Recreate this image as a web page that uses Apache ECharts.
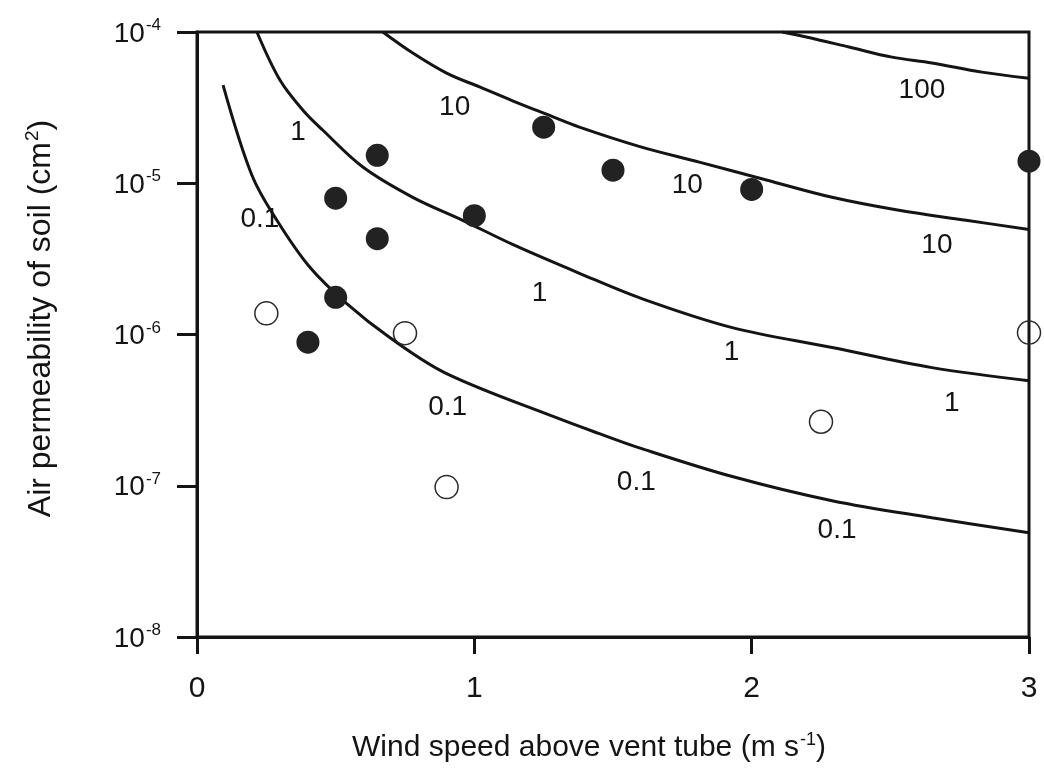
<!DOCTYPE html>
<html>
<head>
<meta charset="utf-8">
<title>Air permeability of soil vs wind speed</title>
<script src="https://cdn.jsdelivr.net/npm/echarts@6/dist/echarts.min.js"></script>
<style>
  html, body { margin: 0; padding: 0; background: #ffffff; }
  #chart { width: 1044px; height: 773px; }
</style>
</head>
<body>
<div id="chart"></div>
<script>
// Model curves: [wind speed (m/s), permeability (cm^2)]
const curve01 = [
  [0.094, 4.46e-5], [0.198, 1.13e-5], [0.288, 5.69e-6], [0.407, 2.78e-6],
  [0.540, 1.60e-6], [0.695, 9.55e-7], [0.900, 5.52e-7], [1.296, 2.82e-7],
  [1.451, 2.21e-7], [1.595, 1.78e-7], [1.930, 1.15e-7], [2.290, 7.96e-8],
  [2.650, 6.14e-8], [3.000, 4.89e-8]
];
const curve1 = [
  [0.216, 1.0e-4], [0.299, 4.81e-5], [0.382, 3.04e-5], [0.454, 2.24e-5],
  [0.598, 1.28e-5], [0.778, 8.07e-6], [0.958, 5.69e-6], [1.138, 3.94e-6],
  [1.379, 2.54e-6], [1.606, 1.72e-6], [1.930, 1.11e-6], [2.290, 8.20e-7],
  [2.650, 6.04e-7], [3.000, 4.95e-7]
];
const curve10 = [
  [0.670, 1.0e-4], [0.778, 7.26e-5], [0.900, 5.35e-5], [1.019, 4.33e-5],
  [1.138, 3.51e-5], [1.260, 2.86e-5], [1.379, 2.35e-5], [1.600, 1.74e-5],
  [1.811, 1.38e-5], [2.053, 1.05e-5], [2.290, 8.07e-6], [2.531, 6.62e-6],
  [2.773, 5.69e-6], [3.000, 4.95e-6]
];
const curve100 = [
  [2.110, 1.0e-4], [2.197, 9.27e-5], [2.351, 7.96e-5], [2.506, 6.82e-5],
  [2.650, 6.24e-5], [2.830, 5.43e-5], [3.000, 4.95e-5]
];

// Measured sites
const filledPoints = [
  [0.40, 8.9e-7], [0.50, 1.76e-6], [0.50, 7.96e-6], [0.65, 4.3e-6],
  [0.65, 1.53e-5], [1.00, 6.1e-6], [1.25, 2.35e-5], [1.50, 1.22e-5],
  [2.00, 9.1e-6], [3.00, 1.4e-5]
];
const openPoints = [
  [0.25, 1.38e-6], [0.75, 1.02e-6], [0.90, 9.8e-8], [2.25, 2.65e-7], [3.00, 1.03e-6]
];

// Curve annotations: [x, y, text]
const curveLabels = [
  [2.614, 4.13e-5, '100'],
  [0.929, 3.19e-5, '10'], [1.768, 9.7e-6, '10'], [2.668, 3.88e-6, '10'],
  [0.364, 2.18e-5, '1'], [1.235, 1.87e-6, '1'], [1.927, 7.6e-7, '1'], [2.722, 3.49e-7, '1'],
  [0.227, 5.78e-6, '0.1'], [0.904, 3.29e-7, '0.1'], [1.584, 1.05e-7, '0.1'], [2.308, 5.04e-8, '0.1']
];

// Axis ranges and labels
const xTicks = [0, 1, 2, 3];
const yExponents = [-8, -7, -6, -5, -4];
const xTitle = 'Wind speed above vent tube (m s';
const xTitleSup = '-1';
const yTitle = 'Air permeability of soil (cm';
const yTitleSup = '2';

const INK = '#141414';
const FONT = '"Liberation Sans", Arial, Helvetica, sans-serif';

const chart = echarts.init(document.getElementById('chart'), null, { renderer: 'canvas' });

function curveSeries(data) {
  return {
    type: 'line',
    data: data,
    showSymbol: false,
    smooth: 0.35,
    lineStyle: { color: INK, width: 3, opacity: 1 },
    silent: true,
    z: 3
  };
}

function titleRich(size) {
  return {
    t: { fontSize: size, color: INK, fontFamily: FONT, lineHeight: size + 4, verticalAlign: 'bottom' },
    s: { fontSize: Math.round(size * 0.6), color: INK, fontFamily: FONT, verticalAlign: 'bottom', padding: [0, 0, Math.round(size * 0.47), 1] }
  };
}

const option = {
  backgroundColor: '#ffffff',
  animation: false,
  textStyle: { fontFamily: FONT, color: INK },
  grid: {
    left: 197, right: 15, top: 32, bottom: 136,
    show: true, borderColor: INK, borderWidth: 3, backgroundColor: 'transparent'
  },
  xAxis: {
    type: 'value',
    min: xTicks[0],
    max: xTicks[xTicks.length - 1],
    interval: 1,
    splitLine: { show: false },
    axisLine: { show: true, lineStyle: { color: INK, width: 3 } },
    axisTick: { show: true, inside: false, length: 17, lineStyle: { color: INK, width: 3 } },
    axisLabel: { margin: 37, fontSize: 30, color: INK, fontFamily: FONT },
    name: '{t|' + xTitle + '}{s|' + xTitleSup + '}{t|)}',
    nameLocation: 'middle',
    nameGap: 92,
    nameTextStyle: { padding: [0, 48, 0, 0], rich: titleRich(30) }
  },
  yAxis: {
    type: 'log',
    logBase: 10,
    min: Math.pow(10, yExponents[0]),
    max: Math.pow(10, yExponents[yExponents.length - 1]),
    splitLine: { show: false },
    minorTick: { show: false },
    axisLine: { show: true, lineStyle: { color: INK, width: 3 } },
    axisTick: { show: true, inside: false, length: 20, lineStyle: { color: INK, width: 3 } },
    axisLabel: {
      margin: 36,
      formatter: function (v) {
        const e = Math.round(Math.log10(v));
        return '{b|10}{s|' + e + '}';
      },
      rich: {
        b: { fontSize: 28, color: INK, fontFamily: FONT, lineHeight: 32, verticalAlign: 'bottom' },
        s: { fontSize: 17, color: INK, fontFamily: FONT, verticalAlign: 'bottom', padding: [0, 0, 14, 1] }
      }
    },
    name: '{t|' + yTitle + '}{s|' + yTitleSup + '}{t|)}',
    nameLocation: 'middle',
    nameGap: 140,
    nameRotate: 90,
    nameTextStyle: { padding: [0, 0, 0, 32], rich: titleRich(32) }
  },
  series: [
    curveSeries(curve01),
    curveSeries(curve1),
    curveSeries(curve10),
    curveSeries(curve100),
    {
      type: 'scatter',
      data: filledPoints,
      symbol: 'circle',
      symbolSize: 23,
      clip: false,
      itemStyle: { color: '#222222', borderWidth: 0, opacity: 1 },
      z: 5
    },
    {
      type: 'scatter',
      data: openPoints,
      symbol: 'circle',
      symbolSize: 23,
      clip: false,
      itemStyle: { color: 'rgba(255,255,255,0)', borderColor: '#2a2a2a', borderWidth: 1.5, opacity: 1 },
      z: 5
    },
    {
      type: 'scatter',
      data: curveLabels.map(function (d) { return { value: [d[0], d[1]], name: d[2] }; }),
      symbol: 'circle',
      symbolSize: 1,
      silent: true,
      clip: false,
      itemStyle: { color: 'rgba(0,0,0,0)', opacity: 1 },
      label: {
        show: true,
        position: 'inside',
        formatter: function (p) { return p.name; },
        fontSize: 28,
        color: INK,
        textBorderWidth: 0,
        fontFamily: FONT
      },
      z: 4
    }
  ]
};

chart.setOption(option);
</script>
</body>
</html>
